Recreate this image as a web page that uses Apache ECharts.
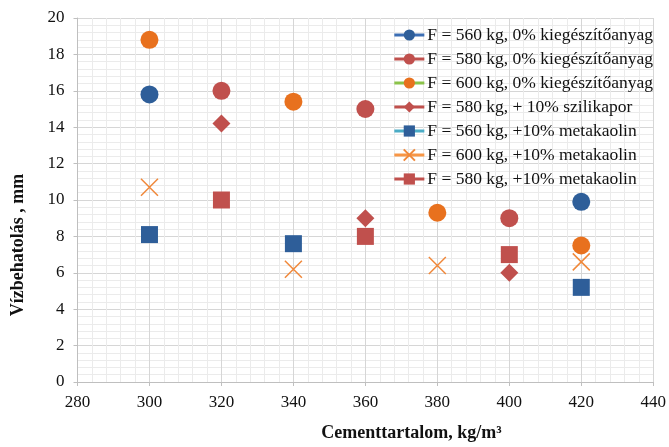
<!DOCTYPE html>
<html><head><meta charset="utf-8">
<script src="https://cdn.jsdelivr.net/npm/echarts@6/dist/echarts.min.js"></script>
<style>html,body{margin:0;padding:0;background:#fff}#c{width:669px;height:447px}</style>
</head><body><div id="c"></div>
<script>
const seriesNames = [
  'F = 560 kg, 0% kiegészítőanyag',
  'F = 580 kg, 0% kiegészítőanyag',
  'F = 600 kg, 0% kiegészítőanyag',
  'F = 580 kg, + 10% szilikapor',
  'F = 560 kg, +10% metakaolin',
  'F = 600 kg, +10% metakaolin',
  'F = 580 kg, +10% metakaolin'
];
const s1 = [[300, 15.8], [420, 9.9]];
const s2 = [[320, 16.0], [360, 15.0], [400, 9.0]];
const s3 = [[300, 18.8], [340, 15.4], [380, 9.3], [420, 7.5]];
const s4 = [[320, 14.2], [360, 9.0], [400, 6.0]];
const s5 = [[300, 8.1], [340, 7.6], [420, 5.2]];
const s6 = [[300, 10.7], [340, 6.2], [380, 6.4], [420, 6.6]];
const s7 = [[320, 10.0], [360, 8.0], [400, 7.0]];
const seriesData = [s1, s2, s3, s4, s5, s6, s7];

const markerColors = ['#2E5E99', '#C0504D', '#E8711E', '#C0504D', '#2E5E99', '#F0883A', '#C0504D'];
const lineColors   = ['#3C6EB4', '#C0504D', '#8BC34A', '#C0504D', '#4BACC6', '#F79646', '#C0504D'];
const symbols = ['circle', 'circle', 'circle', 'diamond', 'rect', 'path://M0,0 L10,10 M10,0 L0,10', 'rect'];
const sizes = [18, 18, 18, 18, 17, 17, 17];

const serif = 'Liberation Serif, Times New Roman, serif';
const chart = echarts.init(document.getElementById('c'));
const series = seriesNames.map((n, i) => {
  const isX = symbols[i].startsWith('path');
  return {
    name: n, type: 'line', data: seriesData[i],
    symbol: symbols[i], symbolSize: sizes[i],
    lineStyle: { opacity: 0, width: 3, color: lineColors[i] },
    itemStyle: isX ? { color: 'rgba(0,0,0,0)', borderColor: markerColors[i], borderWidth: 1.5 }
                   : { color: markerColors[i], borderWidth: 0 },
    emphasis: { disabled: true },
    z: 3
  };
});
chart.setOption({
  animation: false,
  grid: { left: 77.5, right: 13, top: 18, bottom: 63 },
  legend: {
    orient: 'vertical', right: 11, top: 21,
    itemWidth: 30, itemHeight: 14, itemGap: 6,
    textStyle: { fontFamily: serif, fontSize: 17.5, color: '#111', padding: [0, 0, 0, -2] },
    lineStyle: { opacity: 1, width: 3 },
    data: seriesNames.map((n, i) => ({ name: n, lineStyle: { color: lineColors[i], opacity: 1, width: 3 } }))
  },
  xAxis: {
    type: 'value', min: 280, max: 440, interval: 20,
    name: 'Cementtartalom, kg/m³', nameLocation: 'middle', nameGap: 42,
    nameTextStyle: { fontFamily: serif, fontSize: 18, fontWeight: 'bold', color: '#111', padding: [0, 0, 0, 92] },
    axisLine: { show: true, lineStyle: { color: '#BFBFBF' } },
    axisTick: { show: true, length: 4, lineStyle: { color: '#BFBFBF' } },
    axisLabel: { fontFamily: serif, fontSize: 17, color: '#111', margin: 12 },
    splitLine: { show: true, lineStyle: { color: '#D6D6D6' } },
    minorTick: { show: false, splitNumber: 5 },
    minorSplitLine: { show: true, lineStyle: { color: '#EBEBEB' } }
  },
  yAxis: {
    type: 'value', min: 0, max: 20, interval: 2,
    name: 'Vízbehatolás , mm', nameLocation: 'middle', nameGap: 50,
    nameTextStyle: { fontFamily: serif, fontSize: 18, fontWeight: 'bold', color: '#111', padding: [0, 90, 0, 0] },
    axisLine: { show: true, lineStyle: { color: '#BFBFBF' } },
    axisTick: { show: true, length: 4, lineStyle: { color: '#BFBFBF' } },
    axisLabel: { fontFamily: serif, fontSize: 17, color: '#111', margin: 13 },
    splitLine: { show: true, lineStyle: { color: '#D6D6D6' } },
    minorTick: { show: false, splitNumber: 5 },
    minorSplitLine: { show: true, lineStyle: { color: '#EBEBEB' } }
  },
  series: series
});
</script></body></html>
